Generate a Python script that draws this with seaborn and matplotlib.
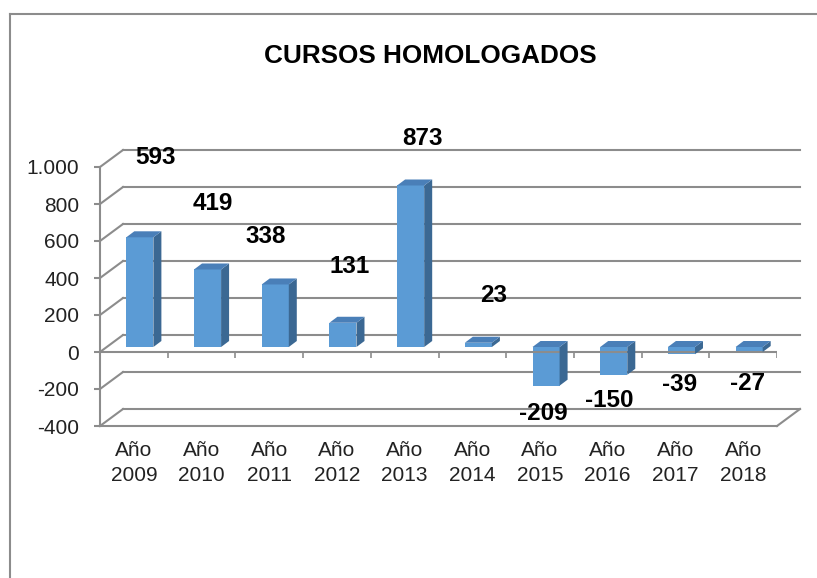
import numpy as np
import pandas as pd
import matplotlib.pyplot as plt
import seaborn as sns
from matplotlib.lines import Line2D
from matplotlib.patches import Polygon
from matplotlib.transforms import IdentityTransform, ScaledTranslation

# data
anios = ["Año\n2009", "Año\n2010", "Año\n2011", "Año\n2012", "Año\n2013",
         "Año\n2014", "Año\n2015", "Año\n2016", "Año\n2017", "Año\n2018"]
cursos = [593, 419, 338, 131, 873, 23, -209, -150, -39, -27]
y_ticks = [-400, -200, 0, 200, 400, 600, 800, 1000]
y_labels = ["-400", "-200", "0", "200", "400", "600", "800", "1.000"]

# where excel left the value labels (pixels from the bar value)
label_dx = [22, 11, -4, 13, 18, 21, 3, 2, 4, 4]
label_dy = [85, 71, 53, 61, 52, 52, -23, -21, -25, -27]

plt.rcParams["font.family"] = ["Liberation Sans", "DejaVu Sans"]

W, H = 817, 578
GRID = "#8c8c8c"
FRONT, TOP, SIDE = "#5b9bd5", "#4a7fb8", "#3b6893"
DEPTH = (23, 17)      # back wall offset, px
BAR_SHIFT = (6, 5)    # bars sit a bit behind the front plane
BAR_DEPTH = (8, 6)

fig = plt.figure(figsize=(W / 100, H / 100), dpi=100)
ax = fig.add_axes([100 / W, 1 - 426 / H, 677 / W, 259 / H])

df = pd.DataFrame({"anio": anios, "cursos": cursos})
sns.barplot(data=df, x="anio", y="cursos", color=FRONT, saturation=1,
            width=0.4, ax=ax, zorder=3)

ax.set_xlim(-0.5, 9.5)
ax.set_ylim(-400, 1000)
ax.set_xlabel("")
ax.set_ylabel("")
for s in ["top", "right"]:
    ax.spines[s].set_visible(False)
ax.spines["left"].set_color(GRID)
ax.spines["left"].set_linewidth(1.5)
ax.spines["bottom"].set_color(GRID)
ax.spines["bottom"].set_linewidth(1.5)
ax.set_yticks(y_ticks)
ax.set_yticklabels(y_labels, fontsize=15, color="#222222")
ax.tick_params(axis="y", length=4, width=1.5, color=GRID, pad=11)
ax.tick_params(axis="x", length=0, pad=11, labelsize=15, labelcolor="#222222")
for t in ax.get_xticklabels():
    t.set_linespacing(1.35)
ax.patch.set_visible(False)

fig.canvas.draw()
to_px = ax.transData.transform
ident = IdentityTransform()

# back wall gridlines + left wall diagonals
back = ax.transData + ScaledTranslation(DEPTH[0] / 100, DEPTH[1] / 100, fig.dpi_scale_trans)
for yv in y_ticks:
    ax.plot([-0.5, 9.5], [yv, yv], color=GRID, lw=1.5, transform=back,
            clip_on=False, zorder=1)
    x0, y0 = to_px((-0.5, yv))
    fig.add_artist(Line2D([x0, x0 + DEPTH[0]], [y0, y0 + DEPTH[1]],
                          color=GRID, lw=1.5, transform=ident, zorder=1))
# floor right edge
x0, y0 = to_px((9.5, -400))
fig.add_artist(Line2D([x0, x0 + DEPTH[0]], [y0, y0 + DEPTH[1]],
                      color=GRID, lw=1.5, transform=ident, zorder=1))

# 3d faces for the bars
shift = ScaledTranslation(BAR_SHIFT[0] / 100, BAR_SHIFT[1] / 100, fig.dpi_scale_trans)
for bar in ax.patches:
    bx, bw = bar.get_x(), bar.get_width()
    by0, by1 = sorted([bar.get_y(), bar.get_y() + bar.get_height()])
    xl, yb = to_px((bx, by0))
    xr, yt = to_px((bx + bw, by1))
    xl += BAR_SHIFT[0]; xr += BAR_SHIFT[0]
    yb += BAR_SHIFT[1]; yt += BAR_SHIFT[1]
    dx, dy = BAR_DEPTH
    side = Polygon([(xr, yb), (xr, yt), (xr + dx, yt + dy), (xr + dx, yb + dy)],
                   closed=True, facecolor=SIDE, edgecolor="none", transform=ident, zorder=2)
    top = Polygon([(xl, yt), (xr, yt), (xr + dx, yt + dy), (xl + dx, yt + dy)],
                  closed=True, facecolor=TOP, edgecolor="none", transform=ident, zorder=2)
    fig.add_artist(side)
    fig.add_artist(top)
    bar.set_transform(ax.transData + shift)
    bar.set_edgecolor("none")
    bar.set_clip_on(False)

# front zero line with its category ticks
ax.axhline(0, color=GRID, lw=1.5, zorder=5)
ax.vlines(np.arange(-0.5, 10, 1), -30, 0, color=GRID, lw=1.2, zorder=5)

# value labels
for i, v in enumerate(cursos):
    ax.annotate(str(v), xy=(i, v), xytext=(label_dx[i], label_dy[i]),
                textcoords="offset pixels", ha="center", va="center",
                fontsize=17.5, fontweight="bold", color="black", zorder=6,
                annotation_clip=False)

fig.text(430 / W, 1 - 56 / H, "CURSOS HOMOLOGADOS", ha="center", va="center",
         fontsize=18.8, fontweight="bold", color="black")

# chart area border (left and top edges only show)
fig.add_artist(Line2D([10 / W, 10 / W], [0, 1 - 14 / H], color="#8c8c8c", lw=1.5,
                      transform=fig.transFigure))
fig.add_artist(Line2D([10 / W, 1], [1 - 14 / H, 1 - 14 / H], color="#8c8c8c", lw=1.5,
                      transform=fig.transFigure))

fig.savefig("out.png", dpi=100)
